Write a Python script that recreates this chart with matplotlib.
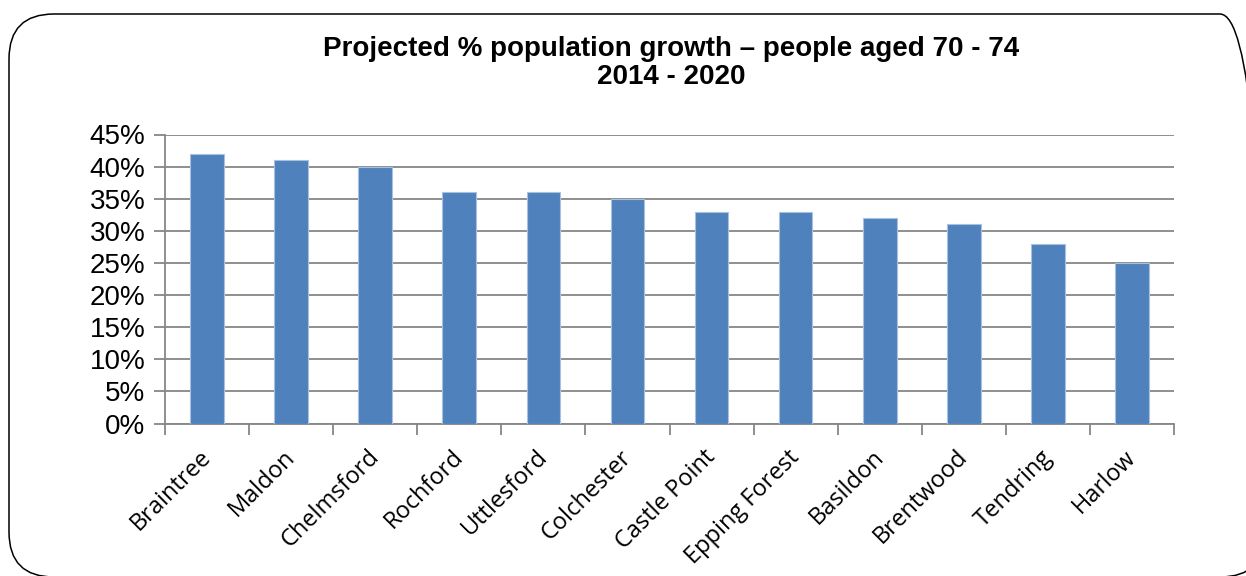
import matplotlib
matplotlib.use("Agg")
import matplotlib.pyplot as plt
from matplotlib.patches import FancyBboxPatch
from matplotlib.ticker import FixedLocator, MultipleLocator, FuncFormatter
from matplotlib.transforms import ScaledTranslation
import numpy as np

districts = ["Braintree", "Maldon", "Chelmsford", "Rochford", "Uttlesford",
             "Colchester", "Castle Point", "Epping Forest", "Basildon",
             "Brentwood", "Tendring", "Harlow"]
growth_pct = [42, 41, 40, 36, 36, 35, 33, 33, 32, 31, 28, 25]

title_text = "Projected % population growth \u2013 people aged 70 - 74\n2014 - 2020"

W, H, DPI = 1246, 576, 100
fig = plt.figure(figsize=(W / DPI, H / DPI), dpi=DPI)

# rounded outer border of the chart area (right edge runs past the canvas)
frame = FancyBboxPatch((0.09, -0.01), 12.56, 5.63,
                       boxstyle="round,pad=0,rounding_size=0.45",
                       transform=fig.dpi_scale_trans, facecolor="none",
                       edgecolor="black", linewidth=1.1, zorder=5,
                       clip_on=False)
fig.patches.append(frame)

ax = fig.add_axes([165 / W, 1 - 423.5 / H, (1174 - 165) / W, (423.5 - 134.5) / H])
ax.set_facecolor("none")

grey = "#868686"
x = np.arange(len(districts))
ax.bar(x, growth_pct, width=0.4, color="#4F81BD", edgecolor="#a9c1e0",
       linewidth=0.8, zorder=3)

ax.set_xlim(-0.5, len(districts) - 0.5)
ax.set_ylim(0, 45)
ax.yaxis.set_major_locator(MultipleLocator(5))
ax.yaxis.set_major_formatter(FuncFormatter(lambda v, p: f"{int(round(v))}%"))
ax.grid(axis="y", color=grey, linewidth=1.3, zorder=0)
ax.set_axisbelow(True)

for s in ["top", "right"]:
    ax.spines[s].set_visible(False)
for s in ["left", "bottom"]:
    ax.spines[s].set_color(grey)
    ax.spines[s].set_linewidth(1.3)

# tick marks between categories, labels centred under bars
ax.xaxis.set_major_locator(FixedLocator(x))
ax.xaxis.set_minor_locator(FixedLocator(np.arange(-0.5, len(districts), 1.0)))
ax.tick_params(axis="x", which="major", length=0, pad=12)
ax.tick_params(axis="x", which="minor", length=8, width=1.3, color=grey, direction="out")
ax.tick_params(axis="y", which="major", length=8, width=1.3, color=grey,
               direction="out", pad=6, labelsize=20)
for lab in ax.get_yticklabels():
    lab.set_fontfamily("Liberation Sans")

ax.set_xticklabels(districts, rotation=45, ha="right", va="top",
                   rotation_mode="anchor", fontfamily="Open Sans", fontsize=17)
shift = ScaledTranslation(-8 / DPI, -5 / DPI, fig.dpi_scale_trans)
for lab in ax.get_xticklabels():
    lab.set_transform(lab.get_transform() + shift)

fig.text(671 / W, 1 - 63 / H, title_text, ha="center", va="center",
         fontfamily="Liberation Sans", fontweight="bold", fontsize=20,
         linespacing=1.05)

fig.savefig("out.png", dpi=DPI, facecolor="white")
